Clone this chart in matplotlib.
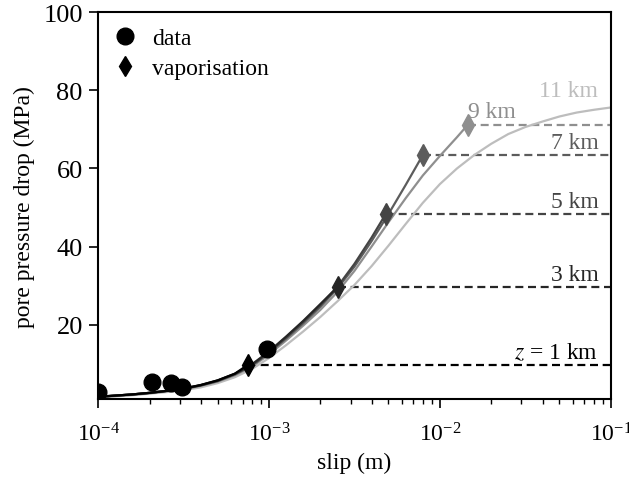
import numpy as np
import matplotlib
matplotlib.use("Agg")
import matplotlib.pyplot as plt

plt.rcParams['font.family'] = ['Liberation Serif', 'DejaVu Serif']
plt.rcParams['mathtext.fontset'] = 'stix'
plt.rcParams['font.size'] = 17

# ---- data ----
depth_labels = ['$z$ = 1 km', '3 km', '5 km', '7 km', '9 km', '11 km']
colors = ['#000000', '#262626', '#444444', '#5c5c5c', '#8f8f8f', '#bdbdbd']

# log10(slip) grids and pore pressure drop (MPa) for each depth
logslip_1 = [-4.0, -3.9, -3.8, -3.7, -3.6, -3.5, -3.4, -3.3, -3.2, -3.123]
dp_1 = [1.6, 1.9, 2.2, 2.6, 3.1, 3.7, 4.6, 5.8, 7.5, 9.8]

logslip_3 = [-4.0, -3.9, -3.8, -3.7, -3.6, -3.5, -3.4, -3.3, -3.2, -3.1, -3.0,
             -2.9, -2.8, -2.7, -2.596]
dp_3 = [1.6, 1.9, 2.2, 2.6, 3.1, 3.7, 4.6, 5.8, 7.5, 9.9, 13.2,
        17.0, 21.0, 25.3, 29.8]

logslip_5 = [-4.0, -3.9, -3.8, -3.7, -3.6, -3.5, -3.4, -3.3, -3.2, -3.1, -3.0,
             -2.9, -2.8, -2.7, -2.6, -2.5, -2.4, -2.316]
dp_5 = [1.6, 1.9, 2.2, 2.6, 3.1, 3.7, 4.5, 5.7, 7.4, 9.7, 13.0,
        16.8, 20.8, 25.0, 29.7, 35.6, 42.3, 48.4]

logslip_7 = [-4.0, -3.9, -3.8, -3.7, -3.6, -3.5, -3.4, -3.3, -3.2, -3.1, -3.0,
             -2.9, -2.8, -2.7, -2.6, -2.5, -2.4, -2.3, -2.2, -2.099]
dp_7 = [1.6, 1.9, 2.2, 2.6, 3.1, 3.6, 4.5, 5.6, 7.3, 9.6, 12.8,
        16.5, 20.4, 24.6, 29.3, 34.9, 41.4, 48.4, 55.8, 63.5]

logslip_9 = [-4.0, -3.9, -3.8, -3.7, -3.6, -3.5, -3.4, -3.3, -3.2, -3.1, -3.0,
             -2.9, -2.8, -2.7, -2.6, -2.5, -2.4, -2.3, -2.2, -2.1, -2.0,
             -1.9, -1.836]
dp_9 = [1.5, 1.8, 2.1, 2.5, 3.0, 3.5, 4.4, 5.5, 7.1, 9.3, 12.4,
        16.0, 19.8, 23.8, 28.4, 33.8, 40.0, 46.3, 52.4, 58.2, 63.2,
        68.0, 71.2]

logslip_11 = [-4.0, -3.9, -3.8, -3.7, -3.6, -3.5, -3.4, -3.3, -3.2, -3.1, -3.0,
              -2.9, -2.8, -2.7, -2.6, -2.5, -2.4, -2.3, -2.2, -2.1, -2.0,
              -1.9, -1.8, -1.7, -1.6, -1.5, -1.4, -1.3, -1.2, -1.1, -1.0]
dp_11 = [1.4, 1.7, 2.0, 2.4, 2.8, 3.3, 4.0, 5.1, 6.6, 8.7, 11.5,
         14.8, 18.3, 22.0, 26.0, 30.2, 35.0, 40.3, 45.8, 51.2, 56.0,
         60.0, 63.4, 66.3, 68.8, 70.6, 72.0, 73.3, 74.3, 75.0, 75.6]

# vaporisation points (slip m, MPa)
vap_slip = [7.53e-4, 2.54e-3, 4.83e-3, 7.96e-3, 1.46e-2]
vap_dp = [9.8, 29.8, 48.4, 63.5, 71.2]

# laboratory data
data_slip = [1.0e-4, 2.07e-4, 2.67e-4, 3.10e-4, 9.7e-4]
data_dp = [2.9, 5.5, 5.0, 4.0, 13.7]

curves = [(logslip_1, dp_1), (logslip_3, dp_3), (logslip_5, dp_5),
          (logslip_7, dp_7), (logslip_9, dp_9), (logslip_11, dp_11)]

fig = plt.figure(figsize=(6.29, 4.85), dpi=100)
ax = fig.add_axes([0.156, 0.175, 0.815, 0.798])

# draw lightest first so darker lie on top
for i in reversed(range(len(curves))):
    ls, dp = curves[i]
    ax.plot(10 ** np.array(ls), dp, color=colors[i], lw=1.6, zorder=2 + (6 - i) * 0.1)

for i in range(len(vap_slip)):
    ax.plot([vap_slip[i], 1e-1], [vap_dp[i], vap_dp[i]], ls=(0, (3.6, 2.1)),
            color=colors[i], lw=1.6, zorder=2)
    ax.plot(vap_slip[i], vap_dp[i], marker='d', color=colors[i], ms=11,
            ls='none', zorder=4)

ax.plot(data_slip, data_dp, 'o', color='black', ms=12, ls='none', zorder=5)

# labels
for i in [0, 1, 2, 3]:
    ax.text(0.0845, vap_dp[i] + 0.5, depth_labels[i], color=colors[i],
            ha='right', va='bottom', fontsize=17)
ax.text(vap_slip[4], vap_dp[4] + 0.7, depth_labels[4], color=colors[4],
        ha='left', va='bottom', fontsize=17)
ax.text(0.0845, 77.3, depth_labels[5], color=colors[5], ha='right',
        va='bottom', fontsize=17)

# legend handles
ax.plot([], [], 'o', color='black', ms=12, label='data')
ax.plot([], [], 'd', color='black', ms=10, label='vaporisation')
ax.legend(loc='upper left', frameon=False, fontsize=17, handletextpad=0.65,
          borderaxespad=0.25, labelspacing=0.38, handlelength=1.0)

ax.set_xscale('log')
ax.set_xlim(1e-4, 1e-1)
ax.set_ylim(1, 100)
ax.set_yticks([20, 40, 60, 80, 100])
ax.set_xlabel('slip (m)', fontsize=17, labelpad=5)
ax.set_ylabel('pore pressure drop (MPa)', fontsize=17, labelpad=6)
ax.tick_params(which='major', length=6.5, width=1.2)
ax.tick_params(axis='y', which='major', labelsize=19, pad=4.5)
ax.tick_params(axis='x', which='major', labelsize=17, pad=10)
ax.tick_params(which='minor', length=3.5, width=1.0)
for s in ax.spines.values():
    s.set_linewidth(1.5)

fig.savefig('out.png', dpi=100)
